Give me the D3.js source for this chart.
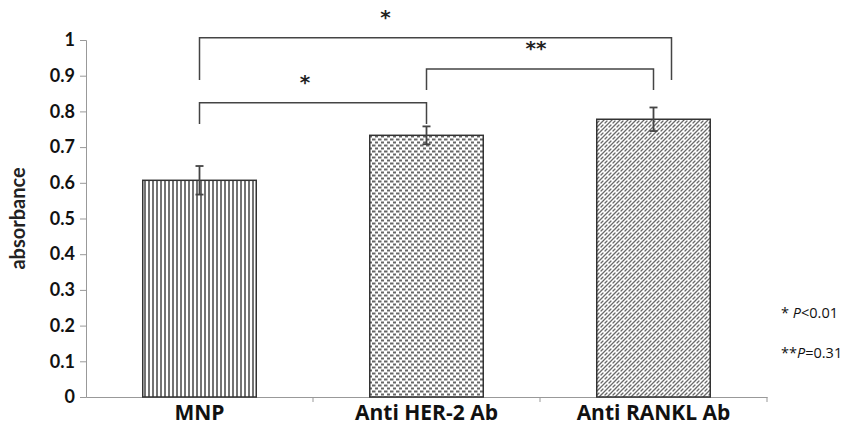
<!doctype html>
<html>
<head>
<style>
    body { margin: 0; background: #fff; }
</style>
<script src="https://d3js.org/d3.v7.min.js"></script>
</head>
<body>
<svg width="842" height="441"></svg>
<script>
    var categories = ["MNP", "Anti HER-2 Ab", "Anti RANKL Ab"];
    var values = [0.607, 0.733, 0.778];
    var errors = [0.040, 0.025, 0.033];
    var yTicks = [0, 0.1, 0.2, 0.3, 0.4, 0.5, 0.6, 0.7, 0.8, 0.9, 1];
    // comparisons: [from, to, bracket level, label]
    var comparisons = [[0, 1, 0.824, "*"], [1, 2, 0.919, "**"], [0, 2, 1.006, "*"]];
    var bracketDrop = [[0.765, 0.765], [0.86, 0.86], [0.888, 0.888]];

    var svg = d3.select("svg");
    var mLeft = 86, mRight = 767, mTop = 40, mBottom = 397;

    var x = d3.scaleBand().domain(categories).range([mLeft, mRight]).paddingInner(0.5).paddingOuter(0.25);
    var y = d3.scaleLinear().domain([0, 1]).range([mBottom, mTop]);

    var defs = svg.append("defs");
    var p1 = defs.append("pattern").attr("id", "vert").attr("patternUnits", "userSpaceOnUse")
        .attr("width", 4).attr("height", 4);
    p1.append("rect").attr("width", 4).attr("height", 4).attr("fill", "#fff");
    p1.append("line").attr("x1", 1).attr("x2", 1).attr("y1", 0).attr("y2", 4)
        .attr("stroke", "#444").attr("stroke-width", 1.5);

    var p2 = defs.append("pattern").attr("id", "dash").attr("patternUnits", "userSpaceOnUse")
        .attr("width", 6).attr("height", 6);
    p2.append("rect").attr("width", 6).attr("height", 6).attr("fill", "#fff");
    p2.append("path").attr("d", "M0,1.5 h3.5 M3,4.5 h3.5").attr("stroke", "#666").attr("stroke-width", 1.8);

    // short staggered diagonal strokes, close to a woven hatch
    var p3 = defs.append("pattern").attr("id", "diag").attr("patternUnits", "userSpaceOnUse")
        .attr("width", 8).attr("height", 8);
    p3.append("rect").attr("width", 8).attr("height", 8).attr("fill", "#fff");
    p3.append("path").attr("d", "M0,4 L4,0 M4,8 L8,4 M1,7 L3,5 M5,3 L7,1")
        .attr("stroke", "#6a6a6a").attr("stroke-width", 1.3).attr("stroke-linecap", "round");

    var fills = ["url(#vert)", "url(#dash)", "url(#diag)"];

    // y axis
    var yAxis = svg.append("g").attr("transform", "translate(" + mLeft + ",0)")
        .call(d3.axisLeft(y).tickValues(yTicks).tickSize(6).tickPadding(5)
            .tickFormat(function(d) { return d === 0 || d === 1 ? d : d.toFixed(1); }));
    yAxis.select(".domain").attr("stroke", "#999");
    yAxis.selectAll(".tick line").attr("stroke", "#999");
    yAxis.selectAll("text").attr("font-size", "18px").attr("font-weight", "bold")
        .attr("font-family", "Lato, sans-serif").attr("fill", "#111");

    // x axis
    var xAxis = svg.append("g").attr("transform", "translate(0," + mBottom + ")")
        .call(d3.axisBottom(x).tickSize(0).tickPadding(8));
    xAxis.select(".domain").attr("stroke", "#999");
    xAxis.selectAll("text").attr("font-size", "21px").attr("font-weight", "bold")
        .attr("font-family", "Open Sans, sans-serif").attr("fill", "#111");
    var step = x.step();
    xAxis.selectAll(".sep").data(categories.slice(1)).enter().append("line")
        .attr("x1", function(d) { return x(d) + x.bandwidth() / 2 - step / 2; })
        .attr("x2", function(d) { return x(d) + x.bandwidth() / 2 - step / 2; })
        .attr("y1", 0).attr("y2", 5).attr("stroke", "#999");
    xAxis.append("line").attr("x1", mRight).attr("x2", mRight).attr("y1", 0).attr("y2", 5).attr("stroke", "#999");

    svg.append("text").attr("transform", "translate(25," + y(0.5) + ") rotate(-90)")
        .attr("text-anchor", "middle").attr("font-size", "20px").attr("font-weight", "bold")
        .attr("font-family", "Lato, sans-serif").attr("fill", "#222")
        .text("absorbance");

    // bars
    svg.selectAll(".bar").data(values).enter().append("rect")
        .attr("class", "bar")
        .attr("x", function(d, i) { return x(categories[i]); })
        .attr("y", function(d) { return y(d); })
        .attr("width", x.bandwidth())
        .attr("height", function(d) { return y(0) - y(d); })
        .attr("fill", function(d, i) { return fills[i]; })
        .attr("stroke", "#333").attr("stroke-width", 1.5);

    // error bars
    var cx = function(i) { return x(categories[i]) + x.bandwidth() / 2; };
    var eb = svg.selectAll(".err").data(values).enter().append("g").attr("class", "err")
        .attr("stroke", "#444").attr("stroke-width", 1.8);
    eb.append("line").attr("x1", function(d, i) { return cx(i); }).attr("x2", function(d, i) { return cx(i); })
        .attr("y1", function(d, i) { return y(d + errors[i]); }).attr("y2", function(d, i) { return y(d - errors[i]); });
    eb.append("line").attr("x1", function(d, i) { return cx(i) - 4; }).attr("x2", function(d, i) { return cx(i) + 4; })
        .attr("y1", function(d, i) { return y(d + errors[i]); }).attr("y2", function(d, i) { return y(d + errors[i]); });
    eb.append("line").attr("x1", function(d, i) { return cx(i) - 4; }).attr("x2", function(d, i) { return cx(i) + 4; })
        .attr("y1", function(d, i) { return y(d - errors[i]); }).attr("y2", function(d, i) { return y(d - errors[i]); });

    // significance brackets
    var shiftR = [0, 0, 18];
    var labelDx = [-8, -4, -50];
    comparisons.forEach(function(c, k) {
        var x1 = cx(c[0]), x2 = cx(c[1]) + shiftR[k];
        svg.append("path")
            .attr("d", "M" + x1 + "," + y(bracketDrop[k][0]) + "V" + y(c[2]) + "H" + x2 + "V" + y(bracketDrop[k][1]))
            .attr("fill", "none").attr("stroke", "#444").attr("stroke-width", 1.5);
        svg.append("text").attr("x", (x1 + x2) / 2 + labelDx[k]).attr("y", y(c[2]) - 14)
            .attr("text-anchor", "middle").attr("font-size", "20px").attr("font-weight", "bold")
            .attr("font-family", "DejaVu Sans, sans-serif").attr("fill", "#222")
            .text(c[3]);
    });

    // p-value notes
    var n1 = svg.append("text").attr("x", 781).attr("y", 318).attr("font-size", "14.5px")
        .attr("font-family", "Open Sans, sans-serif").attr("fill", "#111");
    n1.append("tspan").text("* ");
    n1.append("tspan").attr("font-style", "italic").text("P");
    n1.append("tspan").text("<0.01");
    var n2 = svg.append("text").attr("x", 781).attr("y", 358).attr("font-size", "14.5px")
        .attr("font-family", "Open Sans, sans-serif").attr("fill", "#111");
    n2.append("tspan").text("**");
    n2.append("tspan").attr("font-style", "italic").text("P");
    n2.append("tspan").text("=0.31");
</script>
</body>
</html>
